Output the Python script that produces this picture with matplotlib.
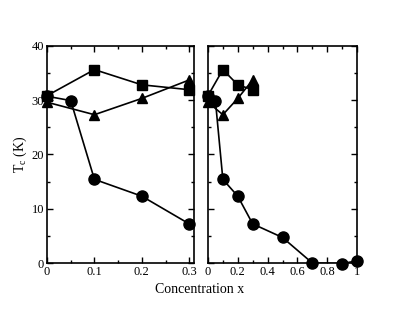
#!/usr/bin/env python3
import matplotlib
matplotlib.use("Agg")
import matplotlib.pyplot as plt
from matplotlib.ticker import MultipleLocator

plt.rcParams["font.family"] = ["Liberation Serif", "DejaVu Serif"]
plt.rcParams["mathtext.fontset"] = "custom"
plt.rcParams["mathtext.rm"] = "Liberation Serif"
plt.rcParams["mathtext.it"] = "Liberation Serif"

# values
sq_x = [0.0, 0.1, 0.2, 0.3]
sq_tc = [30.8, 35.6, 32.8, 31.9]

tri_x = [0.0, 0.1, 0.2, 0.3]
tri_tc = [29.6, 27.3, 30.3, 33.7]

circ_x = [0.0, 0.05, 0.1, 0.2, 0.3, 0.5, 0.7, 0.9, 1.0]
circ_tc = [30.7, 29.9, 15.4, 12.3, 7.2, 4.7, 0.0, -0.1, 0.4]

series = [
    (circ_x, circ_tc, "o", 8),
    (sq_x, sq_tc, "s", 6.5),
    (tri_x, tri_tc, "^", 7),
]

fig = plt.figure(figsize=(4.03, 3.12), dpi=100)
ax_l = fig.add_axes([0.1166, 0.157, 0.3648, 0.6965])
ax_r = fig.add_axes([0.516, 0.157, 0.370, 0.6965])

lw = 1.2
for ax, xmax in ((ax_l, 0.31), (ax_r, 1.0)):
    for xs, ys, mk, ms in series:
        ax.plot(xs, ys, "-", color="black", lw=lw, zorder=2)
        # markers may spill over the frame, lines may not
        keep = [(x, y) for x, y in zip(xs, ys) if x <= xmax + 1e-9]
        ax.plot([p[0] for p in keep], [p[1] for p in keep], mk, color="black",
                ms=ms, clip_on=False, zorder=3)
    ax.set_xlim(0, xmax)
    ax.set_ylim(0, 40)
    ax.yaxis.set_major_locator(MultipleLocator(10))
    ax.yaxis.set_minor_locator(MultipleLocator(5))
    ax.tick_params(which="both", direction="in", top=True, right=True, labelsize=9, pad=2)
    ax.tick_params(which="major", length=4, width=1)
    ax.tick_params(which="minor", length=2, width=1)
    for s in ax.spines.values():
        s.set_linewidth(1.2)

fmt = plt.FuncFormatter(lambda v, p: "0" if abs(v) < 1e-9 else f"{v:g}")

ax_l.xaxis.set_major_locator(MultipleLocator(0.1))
ax_l.xaxis.set_minor_locator(MultipleLocator(0.05))
ax_l.xaxis.set_major_formatter(fmt)
ax_l.set_ylabel(r"T$_\mathrm{c}$ (K)", fontsize=10, labelpad=2)

ax_r.xaxis.set_major_locator(MultipleLocator(0.2))
ax_r.xaxis.set_minor_locator(MultipleLocator(0.1))
ax_r.xaxis.set_major_formatter(fmt)
ax_r.tick_params(labelleft=False)

fig.text(0.496, 0.073, "Concentration x", ha="center", va="center", fontsize=10)

fig.savefig("out.png", dpi=100)
